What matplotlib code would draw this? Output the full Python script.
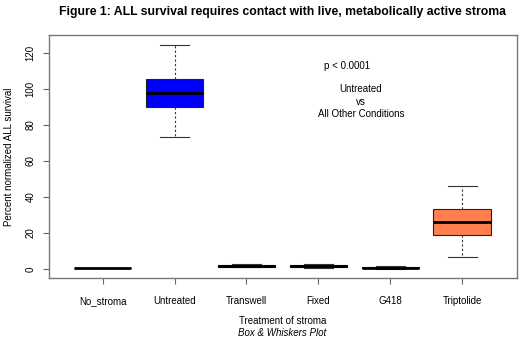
import matplotlib
matplotlib.use("Agg")
import matplotlib.pyplot as plt

plt.rcParams['font.family'] = ['Liberation Sans', 'DejaVu Sans']

# boxplot summary values
groups = ["No_stroma", "Untreated", "Transwell", "Fixed", "G418", "Triptolide"]
whislo = [0.3, 73.3, 1.0, 0.6, 0.2, 6.5]
q1 = [0.4, 90.0, 1.2, 0.9, 0.4, 18.7]
med = [0.5, 98.0, 1.6, 1.4, 0.8, 26.3]
q3 = [0.6, 105.7, 2.4, 2.2, 1.3, 33.3]
whishi = [0.7, 124.6, 2.7, 2.8, 1.6, 46.3]
colors = ["#000000", "#0000FF", "#5a8a4a", "#8a7a60", "#909090", "#FF7F50"]

stats = []
for i in range(len(groups)):
    stats.append({"label": groups[i], "whislo": whislo[i], "q1": q1[i], "med": med[i],
                  "q3": q3[i], "whishi": whishi[i], "fliers": []})

fig = plt.figure(figsize=(5.2, 3.38), dpi=100)
ax = fig.add_axes([0.0948, 0.1775, 0.899, 0.7189])

bp = ax.bxp(stats, positions=range(1, 7), widths=0.8, patch_artist=True,
            showfliers=False,
            boxprops=dict(edgecolor="#222222", linewidth=0.8),
            medianprops=dict(color="black", linewidth=2.0),
            whiskerprops=dict(color="#333333", linestyle=(0, (2, 2)), linewidth=0.8),
            capprops=dict(color="#333333", linewidth=0.8),
            capwidths=0.4)
for patch, c in zip(bp["boxes"], colors):
    patch.set_facecolor(c)

ax.set_xlim(0.257, 6.76)
ax.set_ylim(-5, 130)
ax.set_yticks([0, 20, 40, 60, 80, 100, 120])
ax.set_yticklabels(["0", "20", "40", "60", "80", "100", "120"], rotation=90, va="center")
ax.set_xticks(range(1, 7))
ax.set_xticklabels(groups, va="baseline")
ax.tick_params(labelsize=7, color="#666666", length=4, width=0.8)
ax.tick_params(axis="x", pad=15)
ax.tick_params(axis="y", pad=6)
for s in ax.spines.values():
    s.set_color("#777777")
    s.set_linewidth(1.0)

ax.set_ylabel("Percent normalized ALL survival", fontsize=7, labelpad=8)

fig.text(0.543, 0.965, "Figure 1: ALL survival requires contact with live, metabolically active stroma",
         ha="center", va="center", fontsize=8.8, fontweight="bold")
fig.text(0.543, 1 - 320.7 / 338, "Treatment of stroma", ha="center", va="center", fontsize=7)
fig.text(0.543, 1 - 333 / 338, "Box & Whiskers Plot", ha="center", va="center", fontsize=7, style="italic")

fig.text(347 / 520, 1 - 65.7 / 338, "p < 0.0001", ha="center", va="center", fontsize=7)
fig.text(361 / 520, 1 - 101.7 / 338, "Untreated\nvs\nAll Other Conditions", ha="center", va="center",
         fontsize=7, linespacing=1.3)

fig.savefig("out.png", dpi=100)
